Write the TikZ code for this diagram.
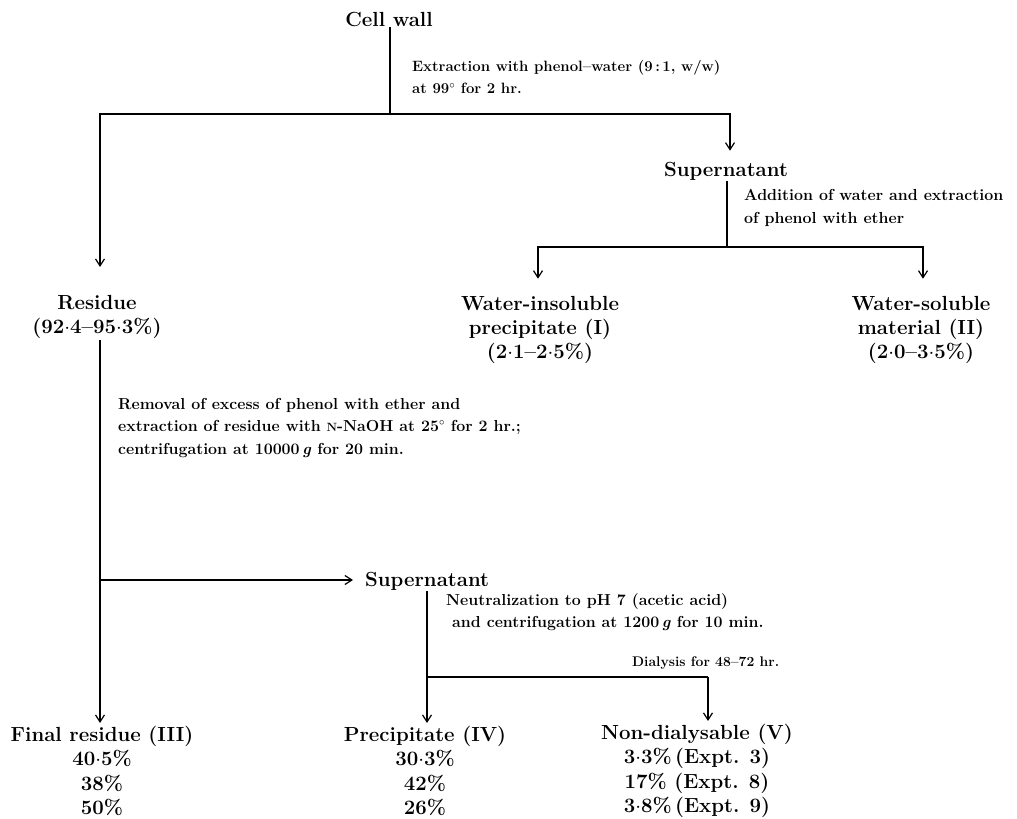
\documentclass[tikz,border=0pt]{standalone}
\usetikzlibrary{arrows.meta}
\begin{document}
\begin{tikzpicture}[x=1bp,y=-1bp,
  lbl/.style={font=\fontsize{20.5}{24.5}\selectfont\bfseries, align=center, inner sep=1pt},
  note/.style={font=\fontsize{16}{22.5}\selectfont\bfseries, align=left, anchor=west, inner sep=0pt},
  line/.style={line width=1.2bp},
  arr/.style={line width=1.2bp, -{Straight Barb[length=7bp,width=9bp,line width=1.2bp]}}]
\useasboundingbox (0,0) rectangle (1017,819);
% nodes
\node[lbl] (cw) at (389,19) {Cell wall};
\node[lbl] (sup1) at (726,171) {Supernatant};
\node[lbl] (res) at (97,317) {Residue\\(92$\cdot$4--95$\cdot$3\%)};
\node[lbl] (wi) at (540,330) {Water-insoluble\\precipitate (I)\\(2$\cdot$1--2$\cdot$5\%)};
\node[lbl] (ws) at (921,330) {Water-soluble\\material (II)\\(2$\cdot$0--3$\cdot$5\%)};
\node[lbl, anchor=west] (sup2) at (364,581) {Supernatant};
\node[lbl] (fr) at (102,771) {Final residue (III)\\40$\cdot$5\%\\38\%\\50\%};
\node[lbl] (pr) at (425,771) {Precipitate (IV)\\30$\cdot$3\%\\42\%\\26\%};
\node[lbl] (nd) at (697,771) {Non-dialysable (V)\\3$\cdot$3\%\,(Expt. 3)\\17\% (Expt. 8)\\3$\cdot$8\%\,(Expt. 9)};
% notes
\node[note, font=\fontsize{15}{22.5}\selectfont\bfseries] (n1) at (412,77) {Extraction with phenol--water (9\,:\,1, w/w)\\at 99$^\circ$ for 2 hr.};
\node[note] (n2) at (744,208) {Addition of water and extraction\\of phenol with ether};
\node[note] (n3) at (118,428) {Removal of excess of phenol with ether and\\extraction of residue with {\fontsize{12}{12}\selectfont N}-NaOH at 25$^\circ$ for 2 hr.;\\centrifugation at 10000\,\textit{g} for 20 min.};
\node[note] (n4) at (446,612) {Neutralization to pH 7 (acetic acid)\\\ and centrifugation at 1200\,\textit{g} for 10 min.};
\node[note, font=\fontsize{14}{20}\selectfont\bfseries] (n5) at (632,663) {Dialysis for 48--72 hr.};
% junctions
\coordinate (j1) at (390,114);
\coordinate (j2) at (727,247);
\coordinate (j3) at (100,580);
\coordinate (j4) at (427,677);
\coordinate (j5) at (708,677);
% connectors
\draw[line] (cw.south -| j1) -- (j1);
\draw[arr] (j1) -| ([yshift=27bp]res.north -| j3);
\draw[arr] (j1) -| ([xshift=4bp,yshift=10bp]sup1.north);
\draw[line] (sup1.south -| j2) -- (j2);
\draw[arr] (j2) -| ([xshift=-2bp,yshift=16bp]wi.north);
\draw[arr] (j2) -| ([xshift=2bp,yshift=16bp]ws.north);
\draw[arr] (res.south -| j3) -- ([yshift=2bp]fr.north -| j3);
\draw[arr] (j3) -- ([xshift=-11bp]sup2.west |- j3);
\draw[arr] (sup2.south -| j4) -- ([yshift=2bp]pr.north -| j4);
\draw[line] (j4) -- (j5);
\draw[arr] (j5) -- ([yshift=2bp]nd.north -| j5);
\end{tikzpicture}
\end{document}
